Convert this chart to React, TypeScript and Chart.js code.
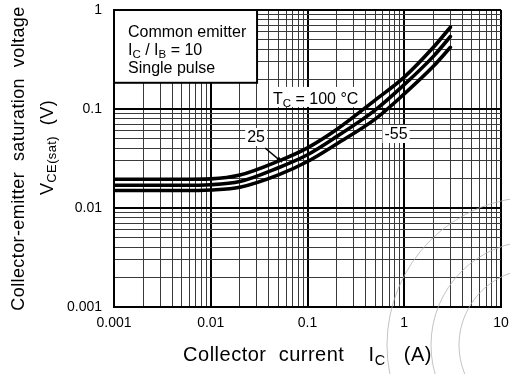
import React, { useEffect, useRef } from "react";
import { Chart, registerables } from "chart.js";

Chart.register(...registerables);

// ---- data ----
const IC = [0.001, 0.002, 0.005, 0.01, 0.02, 0.05, 0.1, 0.2, 0.5, 1, 2, 3];
const VCE_100 = [0.0195, 0.0195, 0.0195, 0.0197, 0.0215, 0.0297, 0.0405, 0.062, 0.123, 0.21, 0.42, 0.67];
const VCE_25 = [0.017, 0.017, 0.017, 0.0172, 0.0185, 0.0255, 0.0345, 0.0526, 0.0974, 0.176, 0.34, 0.54];
const VCE_M55 = [0.015, 0.015, 0.015, 0.0152, 0.0162, 0.0216, 0.0295, 0.0444, 0.079, 0.142, 0.27, 0.42];

const X_TICKS = [0.001, 0.01, 0.1, 1, 10];
const X_TICK_LABELS = ["0.001", "0.01", "0.1", "1", "10"];
const Y_TICKS = [0.001, 0.01, 0.1, 1];
const Y_TICK_LABELS = ["0.001", "0.01", "0.1", "1"];

const FONT = '"Liberation Sans", Arial, Helvetica, sans-serif';

function gridValues(min: number, max: number): number[] {
  const out: number[] = [];
  for (let e = Math.round(Math.log10(min)); e <= Math.round(Math.log10(max)); e++) {
    for (let s = 1; s <= 9; s++) {
      const v = s * Math.pow(10, e);
      if (v > max * 1.0001) break;
      out.push(Number(v.toPrecision(6)));
    }
  }
  return out;
}

const isDecade = (v: number) => Math.abs(Math.log10(v) - Math.round(Math.log10(v))) < 1e-6;

type Seg = { t: string; sub?: boolean };

function drawRich(ctx: CanvasRenderingContext2D, segs: Seg[], x: number, y: number, size: number, align: "left" | "center", spacing = 0) {
  const sub = size * 0.72;
  (ctx as any).letterSpacing = spacing + "px";
  const widths = segs.map((s) => {
    ctx.font = `${s.sub ? sub : size}px ${FONT}`;
    return ctx.measureText(s.t).width;
  });
  const total = widths.reduce((a, b) => a + b, 0);
  let cx = align === "center" ? x - total / 2 : x;
  ctx.textAlign = "left";
  ctx.textBaseline = "alphabetic";
  segs.forEach((s, i) => {
    ctx.font = `${s.sub ? sub : size}px ${FONT}`;
    ctx.fillText(s.t, cx, s.sub ? y + size * 0.18 : y);
    cx += widths[i];
  });
  (ctx as any).letterSpacing = "0px";
  return total;
}

const overlayPlugin = {
  id: "overlay",
  afterDraw(chart: any) {
    const ctx: CanvasRenderingContext2D = chart.ctx;
    const xs = chart.scales.x;
    const ys = chart.scales.y;
    const area = chart.chartArea;
    const px = (v: number) => xs.getPixelForValue(v);
    const py = (v: number) => ys.getPixelForValue(v);
    ctx.save();

    // faint watermark arcs
    ctx.strokeStyle = "rgba(175,175,175,0.75)";
    ctx.lineWidth = 1;
    [76, 104, 148].forEach((r) => {
      ctx.beginPath();
      ctx.arc(535, 345, r, 0, Math.PI * 2);
      ctx.stroke();
    });

    // condition box
    const bx1 = area.left, by1 = area.top;
    const bx2 = px(0.0301), by2 = py(0.184);
    ctx.fillStyle = "#fff";
    ctx.fillRect(bx1, by1, bx2 - bx1, by2 - by1);
    ctx.strokeStyle = "#000";
    ctx.lineWidth = 2;
    ctx.strokeRect(bx1, by1, bx2 - bx1, by2 - by1);
    ctx.fillStyle = "#000";
    const tx = bx1 + 14;
    drawRich(ctx, [{ t: "Common emitter" }], tx, by1 + 27, 16, "left");
    drawRich(ctx, [{ t: "I" }, { t: "C", sub: true }, { t: " / I" }, { t: "B", sub: true }, { t: " = 10" }], tx, by1 + 45, 16, "left");
    drawRich(ctx, [{ t: "Single pulse" }], tx, by1 + 63, 16, "left");

    // Tc label
    const tcX = px(0.044), tcY = py(0.1125);
    ctx.fillStyle = "#fff";
    ctx.fillRect(tcX - 3, tcY - 17, 86, 20);
    ctx.fillStyle = "#000";
    drawRich(ctx, [{ t: "T" }, { t: "C", sub: true }, { t: " = 100 \u00B0C" }], tcX, tcY, 16, "left");

    // 25 label
    const l25x = px(0.0294), l25y = py(0.0521);
    ctx.font = `16px ${FONT}`;
    const w25 = ctx.measureText("25").width;
    ctx.fillStyle = "#fff";
    ctx.fillRect(l25x - w25 / 2 - 2, l25y - 9, w25 + 4, 18);
    ctx.fillStyle = "#000";
    ctx.textAlign = "center";
    ctx.textBaseline = "middle";
    ctx.fillText("25", l25x, l25y + 1);
    // arrow
    const ax1 = px(0.0364), ay1 = py(0.0404), ax2 = px(0.0545), ay2 = py(0.0291);
    ctx.strokeStyle = "#000";
    ctx.lineWidth = 1.5;
    ctx.beginPath();
    ctx.moveTo(ax1, ay1);
    ctx.lineTo(ax2, ay2);
    ctx.stroke();
    const ang = Math.atan2(ay2 - ay1, ax2 - ax1);
    ctx.beginPath();
    ctx.moveTo(ax2, ay2);
    ctx.lineTo(ax2 - 6 * Math.cos(ang - 0.4), ay2 - 6 * Math.sin(ang - 0.4));
    ctx.lineTo(ax2 - 6 * Math.cos(ang + 0.4), ay2 - 6 * Math.sin(ang + 0.4));
    ctx.closePath();
    ctx.fill();

    // -55 label
    const l55x = px(0.822), l55y = py(0.0559);
    const w55 = ctx.measureText("-55").width;
    ctx.fillStyle = "#fff";
    ctx.fillRect(l55x - w55 / 2 - 2, l55y - 9, w55 + 4, 18);
    ctx.fillStyle = "#000";
    ctx.fillText("-55", l55x, l55y + 1);

    // axis titles
    const cy = (area.top + area.bottom) / 2;
    ctx.save();
    ctx.translate(23.5, cy);
    ctx.rotate(-Math.PI / 2);
    drawRich(ctx, [{ t: "Collector-emitter  saturation  voltage" }], 0, 0, 18, "center", 0.4);
    ctx.restore();
    ctx.save();
    ctx.translate(53, cy - 11);
    ctx.rotate(-Math.PI / 2);
    drawRich(ctx, [{ t: "V" }, { t: "CE(sat)", sub: true }, { t: "  (V)" }], 0, 0, 18, "center", 0.4);
    ctx.restore();

    drawRich(ctx, [{ t: "Collector  current    I" }, { t: "C", sub: true }, { t: "   (A)" }], (area.left + area.right) / 2, 361, 20, "center", 0.5);

    ctx.restore();
  },
};

export default function App() {
  const ref = useRef<HTMLCanvasElement | null>(null);
  useEffect(() => {
    document.body.style.margin = "0";
    const canvas = ref.current!;
    const mk = (label: string, ys: number[]) => ({
      label,
      data: IC.map((x, i) => ({ x, y: ys[i] })),
      borderColor: "#000",
      borderWidth: 3.6,
      borderCapStyle: "round" as const,
      borderJoinStyle: "round" as const,
      pointRadius: 0,
      fill: false,
      cubicInterpolationMode: "monotone" as const,
    });
    const xGrid = gridValues(0.001, 10);
    const yGrid = gridValues(0.001, 1);
    const chart = new Chart(canvas, {
      type: "line",
      data: {
        datasets: [mk("100", VCE_100), mk("25", VCE_25), mk("-55", VCE_M55)],
      },
      options: {
        animation: false,
        responsive: false,
        devicePixelRatio: 1,
        layout: { padding: { top: 10, right: 9, left: 0, bottom: 0 } },
        plugins: { legend: { display: false }, tooltip: { enabled: false } },
        scales: {
          x: {
            type: "logarithmic",
            min: 0.001,
            max: 10,
            afterBuildTicks: (s: any) => {
              s.ticks = xGrid.map((v) => ({ value: v }));
            },
            afterFit: (s: any) => {
              s.height = 67;
              s.paddingLeft = 0;
              s.paddingRight = 0;
            },
            grid: {
              color: (c: any) => (isDecade(c.tick.value) ? "#000" : "#3a3a3a"),
              lineWidth: (c: any) => (isDecade(c.tick.value) ? 2 : 1),
              drawTicks: false,
            },
            border: { display: true, color: "#000", width: 2 },
            ticks: {
              autoSkip: false,
              maxRotation: 0,
              padding: 8,
              color: "#000",
              font: { family: FONT, size: 14 },
              callback: (v: any) => {
                const i = X_TICKS.findIndex((t) => Math.abs(Math.log10(t) - Math.log10(Number(v))) < 1e-6);
                return i >= 0 ? X_TICK_LABELS[i] : "";
              },
            },
          },
          y: {
            type: "logarithmic",
            min: 0.001,
            max: 1,
            afterBuildTicks: (s: any) => {
              s.ticks = yGrid.map((v) => ({ value: v }));
            },
            afterFit: (s: any) => {
              s.width = 114;
              s.paddingTop = 0;
              s.paddingBottom = 0;
            },
            grid: {
              color: (c: any) => (isDecade(c.tick.value) ? "#000" : "#3a3a3a"),
              lineWidth: (c: any) => (isDecade(c.tick.value) ? 2 : 1),
              drawTicks: false,
            },
            border: { display: true, color: "#000", width: 2 },
            ticks: {
              autoSkip: false,
              padding: 12,
              color: "#000",
              font: { family: FONT, size: 14 },
              callback: (v: any) => {
                const i = Y_TICKS.findIndex((t) => Math.abs(Math.log10(t) - Math.log10(Number(v))) < 1e-6);
                return i >= 0 ? Y_TICK_LABELS[i] : "";
              },
            },
          },
        },
      },
      plugins: [overlayPlugin],
    });
    return () => chart.destroy();
  }, []);
  return (
    <div style={{ width: 510, height: 374 }}>
      <canvas ref={ref} width={510} height={374} style={{ display: "block", width: 510, height: 374 }} />
    </div>
  );
}
